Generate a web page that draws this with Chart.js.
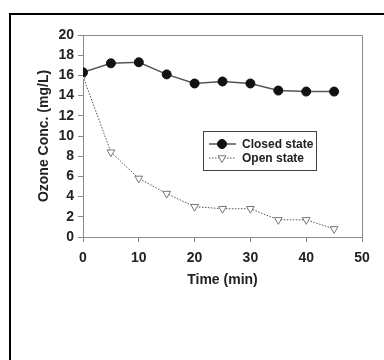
<!DOCTYPE html>
<html>
<head>
<meta charset="utf-8">
<script src="https://cdn.jsdelivr.net/npm/chart.js@4"></script>
<style>
  html, body { margin: 0; padding: 0; background: #fff; }
  #wrap { width: 384px; height: 360px; position: relative; }
</style>
</head>
<body>
<div id="wrap"><canvas id="ozoneChart" width="384" height="360"></canvas></div>
<script>
const times = [0, 5, 10, 15, 20, 25, 30, 35, 40, 45];
const closedState = [16.3, 17.2, 17.3, 16.1, 15.2, 15.4, 15.2, 14.5, 14.4, 14.4];
const openState = [15.9, 8.4, 5.8, 4.3, 3.0, 2.8, 2.8, 1.7, 1.7, 0.8];
const seriesNames = ["Closed state", "Open state"];

const FONT = "'Liberation Sans', Arial, sans-serif";
const axisGray = "#8a8a8a";

function toPoints(vals) {
  return times.map((t, i) => ({ x: t, y: vals[i] }));
}

// outer frame + plot box top/right edges + inset legend
const framePlugin = {
  id: "frame",
  beforeDraw(chart) {
    const c = chart.ctx;
    c.save();
    c.fillStyle = "#fff";
    c.fillRect(0, 0, chart.width, chart.height);
    c.strokeStyle = "#000";
    c.lineWidth = 2;
    c.strokeRect(10, 14, 400, 400);
    c.restore();
  },
  afterDraw(chart) {
    const c = chart.ctx;
    const a = chart.chartArea;
    c.save();
    c.strokeStyle = axisGray;
    c.lineWidth = 1;
    c.beginPath();
    c.moveTo(a.left, a.top + 0.5);
    c.lineTo(a.right + 0.5, a.top + 0.5);
    c.lineTo(a.right + 0.5, a.bottom);
    c.stroke();

    // legend box
    const bx = 203.5, by = 131.5, bw = 113, bh = 39;
    c.strokeStyle = "#444";
    c.strokeRect(bx, by, bw, bh);
    c.font = "bold 12px " + FONT;
    c.textBaseline = "middle";
    const rows = [144, 158];
    chart.data.datasets.forEach((ds, i) => {
      const y = rows[i];
      c.save();
      c.strokeStyle = ds.borderColor;
      c.lineWidth = ds.borderWidth;
      c.setLineDash(ds.borderDash || []);
      c.beginPath();
      c.moveTo(209, y);
      c.lineTo(236, y);
      c.stroke();
      c.restore();
      c.save();
      c.fillStyle = ds.pointBackgroundColor;
      c.strokeStyle = ds.pointBorderColor;
      c.lineWidth = ds.pointBorderWidth;
      Chart.helpers.drawPoint(c, {
        pointStyle: ds.pointStyle,
        radius: ds.pointRadius,
        rotation: ds.pointRotation || 0,
        borderWidth: ds.pointBorderWidth
      }, 222, y);
      c.restore();
      c.fillStyle = "#222";
      c.fillText(seriesNames[i], 242, y + 0.5);
    });
    c.restore();
  }
};

new Chart(document.getElementById("ozoneChart"), {
  type: "line",
  data: {
    datasets: [
      {
        label: seriesNames[0],
        data: toPoints(closedState),
        borderColor: "#555",
        borderWidth: 1.5,
        pointStyle: "circle",
        pointRadius: 4.5,
        pointBackgroundColor: "#111",
        pointBorderColor: "#111",
        pointBorderWidth: 1,
        tension: 0
      },
      {
        label: seriesNames[1],
        data: toPoints(openState),
        borderColor: "#555",
        borderWidth: 1,
        borderDash: [1.5, 1.5],
        pointStyle: "triangle",
        pointRotation: 180,
        pointRadius: 4.5,
        pointBackgroundColor: "#fff",
        pointBorderColor: "#777",
        pointBorderWidth: 1,
        tension: 0
      }
    ]
  },
  options: {
    responsive: false,
    animation: false,
    layout: { padding: { left: 36, top: 35, right: 22, bottom: 71 } },
    plugins: { legend: { display: false }, tooltip: { enabled: false } },
    scales: {
      x: {
        type: "linear",
        min: 0,
        max: 50,
        afterFit(s) { s.height = 52; },
        border: { color: axisGray, width: 1 },
        grid: { drawOnChartArea: false, tickLength: 5, color: axisGray },
        ticks: { stepSize: 10, color: "#222", padding: 8, font: { family: FONT, size: 14, weight: "bold" } },
        title: { display: true, text: "Time (min)", color: "#222", padding: 0, font: { family: FONT, size: 14, weight: "bold" } }
      },
      y: {
        min: 0,
        max: 20,
        afterFit(s) { s.width = 47; },
        border: { color: axisGray, width: 1 },
        grid: { drawOnChartArea: false, tickLength: 5, color: axisGray },
        ticks: { stepSize: 2, color: "#222", padding: 4, font: { family: FONT, size: 14, weight: "bold" } },
        title: { display: true, text: "Ozone Conc. (mg/L)", color: "#222", padding: 0, font: { family: FONT, size: 14, weight: "bold" } }
      }
    }
  },
  plugins: [framePlugin]
});
</script>
</body>
</html>
